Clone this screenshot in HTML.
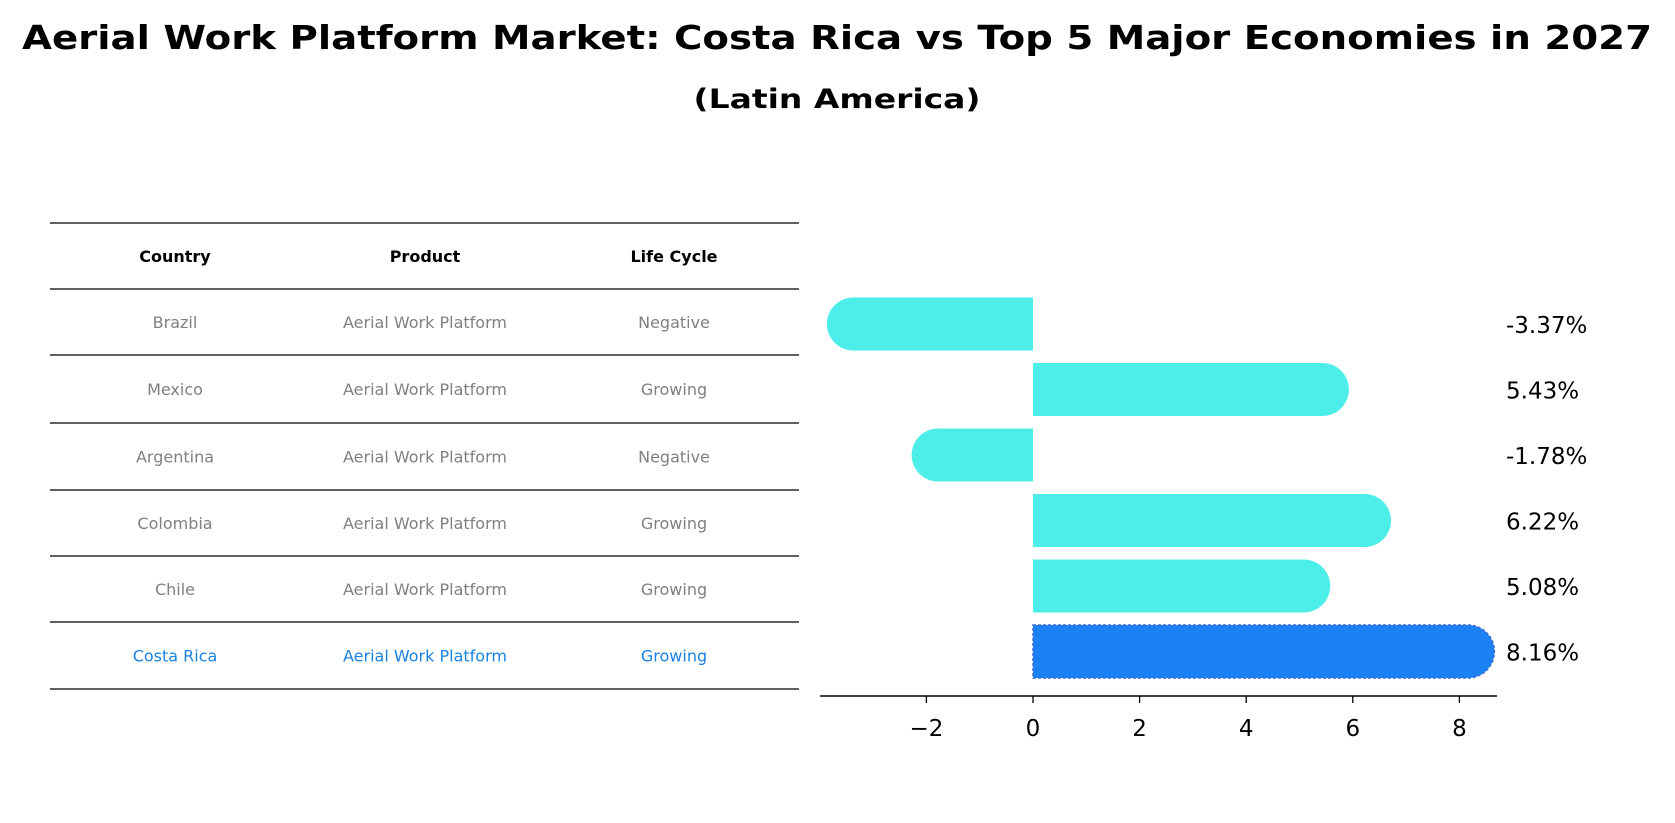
<!DOCTYPE html>
<html><head><meta charset="utf-8"><style>
body{margin:0;background:#fff;}
svg{display:block;font-family:"DejaVu Sans","Liberation Sans",sans-serif;}
</style></head><body>
<svg id="chart" width="1675" height="823" viewBox="0 0 1675 823">
<text x="837" y="49" text-anchor="middle" font-size="33" font-weight="bold" textLength="1630" lengthAdjust="spacingAndGlyphs">Aerial Work Platform Market: Costa Rica vs Top 5 Major Economies in 2027</text>
<text x="837" y="108" text-anchor="middle" font-size="27" font-weight="bold" textLength="287" lengthAdjust="spacingAndGlyphs">(Latin America)</text>
<g id="table"></g>
<g id="bars"></g>
</svg>
<script>
const countries=["Brazil","Mexico","Argentina","Colombia","Chile","Costa Rica"];
const products=["Aerial Work Platform","Aerial Work Platform","Aerial Work Platform","Aerial Work Platform","Aerial Work Platform","Aerial Work Platform"];
const lifeCycle=["Negative","Growing","Negative","Growing","Growing","Growing"];
const growth=[-3.37,5.43,-1.78,6.22,5.08,8.16];
const labels=["-3.37%","5.43%","-1.78%","6.22%","5.08%","8.16%"];
const xTicks=[-2,0,2,4,6,8];
const NS="http://www.w3.org/2000/svg";
function mk(t,a,p){const e=document.createElementNS(NS,t);for(const k in a)e.setAttribute(k,a[k]);p.appendChild(e);return e;}
const tb=document.getElementById('table');
const lineYs=[223,289,355,423,490,556,622,689];
lineYs.forEach((y,i)=>{const l=mk('line',{x1:50,x2:799,y1:y,y2:y,stroke:'#000','stroke-width':1.2},tb);

});
const colX=[175,425,674];
["Country","Product","Life Cycle"].forEach((h,i)=>{const t=mk('text',{x:colX[i],y:262,'text-anchor':'middle','font-size':16,'font-weight':'bold'},tb);t.textContent=h;

});
countries.forEach((c,r)=>{const y=(lineYs[r+1]+lineYs[r+2])/2+6;const col=r===5?'#1a82e0':'#808080';
[c,products[r],lifeCycle[r]].forEach((v,i)=>{const t=mk('text',{x:colX[i],y:y,'text-anchor':'middle','font-size':16,fill:col},tb);t.textContent=v;

});});
const bg=document.getElementById('bars');
const x0=1033,ppu=53.3;const xs=v=>x0+v*ppu;
const yc=i=>324+i*65.5;const h=53,r=26.5;
growth.forEach((v,i)=>{const y=yc(i);const hi=i===5;const fill=hi?'#1a82f5':'#4deeea';
const xv=xs(v);const dir=v>=0?1:-1;
const d=`M${x0},${y-h/2} L${xv},${y-h/2} A${r},${r} 0 0 ${dir>0?1:0} ${xv},${y+h/2} L${x0},${y+h/2} Z`;
const p=mk('path',{d:d,fill:fill},bg);
if(hi){p.setAttribute('stroke','#3a6fd8');p.setAttribute('stroke-dasharray','3,2');p.setAttribute('stroke-width','1.5');}


const t=mk('text',{x:1506,y:y+9,'font-size':23},bg);t.textContent=labels[i];

});
const ax=mk('line',{x1:820,x2:1497,y1:696,y2:696,stroke:'#000','stroke-width':1.5},bg);


xTicks.forEach(v=>{const tk=mk('line',{x1:xs(v),x2:xs(v),y1:696,y2:703,stroke:'#000','stroke-width':1.3},bg);


const t=mk('text',{x:xs(v),y:736,'text-anchor':'middle','font-size':23},bg);t.textContent=v<0?'\u2212'+Math.abs(v):v;

});
</script>
</body></html>
